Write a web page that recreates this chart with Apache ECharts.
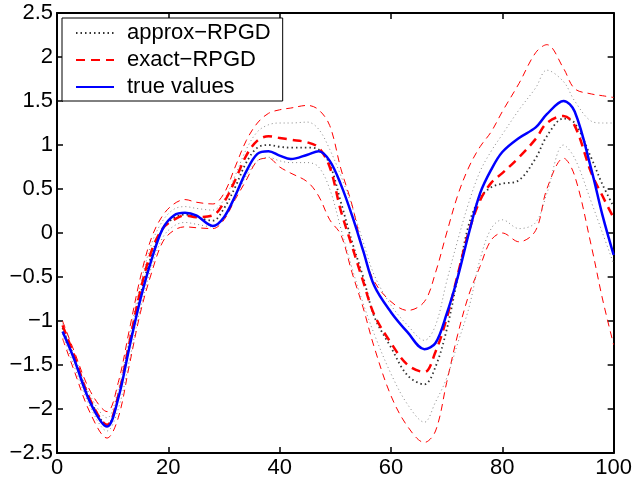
<!DOCTYPE html>
<html>
<head>
<meta charset="utf-8">
<script src="https://cdn.jsdelivr.net/npm/echarts@6/dist/echarts.min.js"></script>
<style>html,body{margin:0;padding:0;background:#fff}#c{width:635px;height:482px}</style>
</head>
<body>
<div id="c"></div>
<script>
var xs = [1,3,6,9,11,13,15,17,19,21,23,25,28,30,32,34,36,38,40,42,45,47,49,51,53,55,57,60,63,66,68,70,72,74,76,78,80,83,86,88,91,93,96,98,100];

var trueValues = [-1.12,-1.42,-1.93,-2.2,-1.88,-1.3,-0.75,-0.3,0.05,0.2,0.23,0.2,0.08,0.18,0.42,0.7,0.9,0.93,0.88,0.84,0.89,0.93,0.82,0.55,0.2,-0.2,-0.6,-0.9,-1.13,-1.32,-1.25,-0.92,-0.5,0.0,0.45,0.72,0.92,1.08,1.2,1.35,1.5,1.38,0.72,0.2,-0.25];

var exactMean = [-1.05,-1.38,-1.9,-2.18,-1.85,-1.25,-0.65,-0.2,0.05,0.15,0.2,0.18,0.2,0.35,0.6,0.88,1.05,1.1,1.08,1.06,1.03,0.97,0.75,0.25,-0.15,-0.55,-0.93,-1.25,-1.5,-1.58,-1.35,-0.97,-0.47,0.02,0.37,0.57,0.68,0.86,1.07,1.25,1.33,1.22,0.68,0.42,0.17];
var exactUpper = [-1.0,-1.33,-1.8,-2.03,-1.7,-1.1,-0.5,-0.05,0.2,0.33,0.38,0.35,0.33,0.45,0.75,1.05,1.25,1.36,1.4,1.42,1.45,1.4,1.22,0.73,0.32,-0.2,-0.55,-0.78,-0.88,-0.78,-0.45,0.0,0.43,0.75,0.98,1.15,1.38,1.7,2.05,2.14,1.87,1.64,1.58,1.56,1.54];
var exactLower = [-1.2,-1.55,-2.05,-2.33,-2.1,-1.5,-0.9,-0.45,-0.1,0.03,0.07,0.06,0.05,0.15,0.38,0.6,0.82,0.85,0.75,0.68,0.58,0.42,0.15,-0.02,-0.45,-0.85,-1.3,-1.85,-2.2,-2.38,-2.25,-1.7,-1.15,-0.7,-0.38,-0.08,0.0,-0.1,0.03,0.5,0.85,0.65,-0.15,-0.75,-1.27];

var approxMean = [-1.08,-1.42,-1.9,-2.18,-1.88,-1.28,-0.7,-0.25,0.05,0.17,0.21,0.18,0.14,0.28,0.52,0.8,0.97,1.0,0.98,0.97,0.97,0.95,0.78,0.35,-0.1,-0.5,-0.95,-1.3,-1.62,-1.72,-1.52,-1.1,-0.5,0.1,0.4,0.52,0.56,0.6,0.85,1.1,1.3,1.25,0.85,0.55,0.3];
var approxUpper = [-1.03,-1.37,-1.85,-2.1,-1.78,-1.18,-0.58,-0.12,0.14,0.27,0.3,0.28,0.26,0.38,0.65,0.95,1.15,1.23,1.25,1.25,1.26,1.18,0.95,0.65,0.3,-0.1,-0.48,-0.82,-1.05,-1.22,-1.05,-0.55,-0.08,0.35,0.7,0.93,1.12,1.4,1.65,1.85,1.72,1.5,1.27,1.25,1.25];
var approxLower = [-1.15,-1.5,-1.98,-2.25,-2.0,-1.45,-0.85,-0.38,-0.05,0.08,0.12,0.1,0.07,0.18,0.4,0.65,0.82,0.86,0.82,0.8,0.8,0.75,0.5,0.05,-0.4,-0.8,-1.15,-1.6,-1.95,-2.15,-1.92,-1.65,-1.25,-0.85,-0.3,0.05,0.15,0.05,0.12,0.45,1.0,0.85,0.35,0.0,-0.35];

var xTicks = {min: 0, max: 100, step: 20};
var yTicks = {min: -2.5, max: 2.5, step: 0.5};

function pairs(ys) { return xs.map(function (x, i) { return [x, ys[i]]; }); }
function fmt(v) { return String(v).replace('-', '\u2212'); }

var FONT = 'Liberation Sans, Arial, Helvetica, sans-serif';

function axisCommon(pos, showLabel, range, margin) {
  return {
    type: 'value', position: pos, min: range.min, max: range.max, interval: range.step,
    axisLine: {show: true, onZero: false, lineStyle: {color: '#000', width: 2}},
    axisTick: {show: true, inside: true, length: 6, lineStyle: {color: '#000', width: 1.5}},
    axisLabel: {show: showLabel, color: '#000', fontSize: 22, fontFamily: FONT, margin: margin, formatter: fmt},
    splitLine: {show: false}
  };
}

function line(name, ys, color, width, type, z) {
  return {
    name: name, type: 'line', data: pairs(ys), smooth: 0.35, symbol: 'none', showSymbol: false,
    xAxisIndex: 0, yAxisIndex: 0, z: z, silent: true, animation: false,
    lineStyle: {color: color, width: width, type: type}, itemStyle: {color: color}
  };
}

var chart = echarts.init(document.getElementById('c'), null, {renderer: 'canvas'});
chart.setOption({
  backgroundColor: '#fff',
  animation: false,
  grid: {left: 57, right: 20, top: 13, bottom: 29, containLabel: false},
  xAxis: [axisCommon('bottom', true, xTicks, 4), axisCommon('top', false, xTicks, 4)],
  yAxis: [axisCommon('left', true, yTicks, 4), axisCommon('right', false, yTicks, 4)],
  legend: {
    data: ['approx\u2212RPGD', 'exact\u2212RPGD', 'true values'],
    orient: 'vertical', left: 62, top: 18,
    itemWidth: 38, itemHeight: 16, itemGap: 5,
    padding: [4, 12, 3, 13],
    backgroundColor: '#fff', borderColor: '#000', borderWidth: 1, borderRadius: 0,
    selectedMode: false,
    itemStyle: {opacity: 0, borderWidth: 0},
    textStyle: {fontSize: 22, fontFamily: FONT, color: '#000', padding: [0, 0, 0, 8]}
  },
  series: [
    line('exact upper', exactUpper, '#ff0000', 1, [7, 5], 2),
    line('exact lower', exactLower, '#ff0000', 1, [7, 5], 2),
    line('approx upper', approxUpper, '#888888', 1, [1, 3], 2),
    line('approx lower', approxLower, '#888888', 1, [1, 3], 2),
    line('approx\u2212RPGD', approxMean, '#333333', 1.8, [1.5, 3], 3),
    line('exact\u2212RPGD', exactMean, '#ff0000', 2.5, [9, 6], 4),
    line('true values', trueValues, '#0000ff', 2.5, 'solid', 5)
  ]
});
</script>
</body>
</html>
